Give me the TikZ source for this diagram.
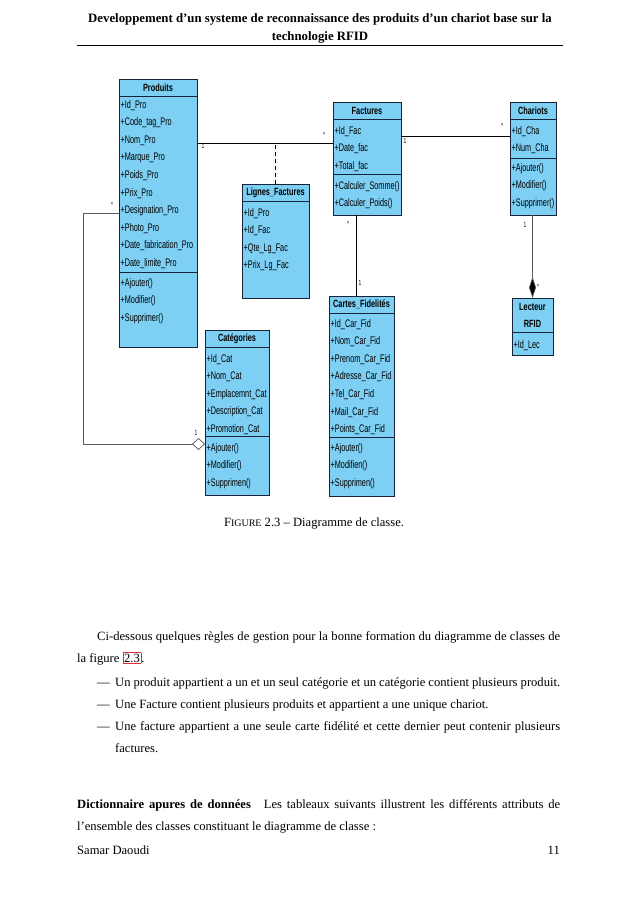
\documentclass[tikz,border=0pt]{standalone}
\usepackage{fontspec}
\setmainfont{Liberation Serif}
\newfontfamily\umlfam[FakeStretch=0.66]{Liberation Sans}
\newfontfamily\umlbfam[FakeStretch=0.7]{Liberation Sans}
\usetikzlibrary{arrows.meta}
\definecolor{clsfill}{RGB}{125,207,243}
\definecolor{clsline}{RGB}{25,35,55}
\definecolor{refred}{RGB}{225,45,45}
\definecolor{linkgray}{RGB}{90,90,90}
\newcommand\umlattrfont{\umlfam\fontsize{11}{12}\selectfont}
\newcommand\umltitlefont{\umlbfam\bfseries\fontsize{10.5}{17}\selectfont}
\newcommand\umlmultfont{\umlfam\fontsize{7.5}{7.5}\selectfont}
\newcommand\pagefont{\fontsize{12.6}{15}\selectfont}
\newcommand\attrlist[4]{\foreach \t [count=\i] in {#4} {\node[attr] (#1-\i) at (#2, #3+17.6*\i-17.6) {\t};}}
\begin{document}
\begin{tikzpicture}[x=1pt,y=-1pt,
  cls/.style={draw=clsline, fill=clsfill, line width=0.8pt, anchor=north west, inner sep=0pt, outer sep=0pt},
  ttl/.style={font=\umltitlefont, inner sep=0pt, align=center},
  attr/.style={font=\umlattrfont, anchor=base west, inner sep=0pt},
  sepline/.style={draw=clsline, line width=0.8pt},
  assoc/.style={draw=black, line width=0.7pt},
  mult/.style={font=\umlmultfont, inner sep=0pt},
  txt/.style={font=\pagefont, anchor=base west, inner sep=0pt}
]
\useasboundingbox[fill=white] (0,0) rectangle (638,903);

% ---------- page header ----------
\node[font=\fontsize{12.8}{15}\selectfont\bfseries, anchor=base, inner sep=0pt] (head1) at (320,22)
  {Developpement d’un systeme de reconnaissance des produits d’un chariot base sur la};
\node[font=\fontsize{12.8}{15}\selectfont\bfseries, anchor=base, inner sep=0pt] (head2) at (320,40) {technologie RFID};
\coordinate (ruleL) at (77,45);
\coordinate (ruleR) at (563,45);
\draw[line width=0.9pt] (ruleL) -- (ruleR);

% ---------- classes ----------
% Produits
\node[cls, minimum width=78pt, minimum height=268pt] (produits) at (119,79) {};
\node[ttl] (produits-t) at (158,87.5) {Produits};
\draw[sepline] (produits.west |- 0,96) -- (produits.east |- 0,96);
\draw[sepline] (produits.west |- 0,272) -- (produits.east |- 0,272);
\attrlist{produits-a}{120.5}{108}{+Id\_Pro,+Code\_tag\_Pro,+Nom\_Pro,+Marque\_Pro,+Poids\_Pro,+Prix\_Pro,+Designation\_Pro,+Photo\_Pro,+Date\_fabrication\_Pro,+Date\_limite\_Pro}
\attrlist{produits-m}{120.5}{286}{+Ajouter(),+Modifier(),+Supprimer()}

% Lignes_Factures
\node[cls, minimum width=67pt, minimum height=114pt] (lignes) at (242,184) {};
\node[ttl] (lignes-t) at (275.5,192.5) {Lignes\_Factures};
\draw[sepline] (lignes.west |- 0,201) -- (lignes.east |- 0,201);
\attrlist{lignes-a}{243.5}{216}{+Id\_Pro,+Id\_Fac,+Qte\_Lg\_Fac,+Prix\_Lg\_Fac}

% Factures
\node[cls, minimum width=68pt, minimum height=113pt] (factures) at (333,102) {};
\node[ttl] (factures-t) at (367,110.5) {Factures};
\draw[sepline] (factures.west |- 0,119) -- (factures.east |- 0,119);
\draw[sepline] (factures.west |- 0,174) -- (factures.east |- 0,174);
\attrlist{factures-a}{334.5}{134}{+Id\_Fac,+Date\_fac,+Total\_fac}
\attrlist{factures-m}{334.5}{189}{+Calculer\_Somme(),+Calculer\_Poids()}

% Chariots
\node[cls, minimum width=46pt, minimum height=113pt] (chariots) at (510,102) {};
\node[ttl] (chariots-t) at (533,110.5) {Chariots};
\draw[sepline] (chariots.west |- 0,119) -- (chariots.east |- 0,119);
\draw[sepline] (chariots.west |- 0,158) -- (chariots.east |- 0,158);
\attrlist{chariots-a}{511.5}{134}{+Id\_Cha,+Num\_Cha}
\attrlist{chariots-m}{511.5}{171}{+Ajouter(),+Modifier(),+Supprimer()}

% Lecteur RFID
\node[cls, minimum width=41pt, minimum height=57pt] (lecteur) at (512,298) {};
\node[ttl] (lecteur-t) at (532.5,315.5) {Lecteur\\RFID};
\draw[sepline] (lecteur.west |- 0,332) -- (lecteur.east |- 0,332);
\attrlist{lecteur-a}{513.5}{348}{+Id\_Lec}

% Cartes_Fidelites
\node[cls, minimum width=65pt, minimum height=200pt] (cartes) at (329,296) {};
\node[ttl] (cartes-t) at (361.5,304.5) {Cartes\_Fidelités};
\draw[sepline] (cartes.west |- 0,313) -- (cartes.east |- 0,313);
\draw[sepline] (cartes.west |- 0,437) -- (cartes.east |- 0,437);
\attrlist{cartes-a}{330.5}{327}{+Id\_Car\_Fid,+Nom\_Car\_Fid,+Prenom\_Car\_Fid,+Adresse\_Car\_Fid,+Tel\_Car\_Fid,+Mail\_Car\_Fid,+Points\_Car\_Fid}
\attrlist{cartes-m}{330.5}{451}{+Ajouter(),+Modifien(),+Supprimen()}

% Categories
\node[cls, minimum width=64pt, minimum height=165pt] (categories) at (205,330) {};
\node[ttl] (categories-t) at (237,338.5) {Catégories};
\draw[sepline] (categories.west |- 0,347) -- (categories.east |- 0,347);
\draw[sepline] (categories.west |- 0,436) -- (categories.east |- 0,436);
\attrlist{categories-a}{206.5}{362}{+Id\_Cat,+Nom\_Cat,+Emplacemnt\_Cat,+Description\_Cat,+Promotion\_Cat}
\attrlist{categories-m}{206.5}{451}{+Ajouter(),+Modifier(),+Supprimen()}

% ---------- connectors ----------
\draw[assoc] (produits.east |- 0,143) -- (factures.west |- 0,143);
\draw[assoc, dashed, dash pattern=on 4pt off 3pt] (lignes.north) -- (lignes.north |- 0,143);
\draw[assoc] (factures.east |- 0,136) -- (chariots.west |- 0,136);
\coordinate (fcx) at (356,0);
\draw[assoc] (factures.south -| fcx) -- (cartes.north -| fcx);
\draw[draw=linkgray, line width=0.7pt, -{Diamond[length=21pt,width=7pt,fill=black]}] (lecteur.north |- chariots.south) -- (lecteur.north);
\coordinate (aggA) at (83,213);
\coordinate (aggB) at (83,444);
\draw[draw=linkgray, line width=0.7pt, -{Diamond[open,length=13pt,width=12pt,fill=white]}]
  (produits.west |- aggA) -- (aggA) -- (aggB) -- (categories.west |- aggB);

% multiplicities
\node[mult] (m1) at (203,146) {1};
\node[mult] (m2) at (324,135) {*};
\node[mult] (m3) at (405,141) {1};
\node[mult] (m4) at (502,126) {*};
\node[mult] (m5) at (348,224) {*};
\node[mult] (m6) at (360,283) {1};
\node[mult] (m7) at (525,225) {1};
\node[mult] (m8) at (538,287) {*};
\node[mult] (m9) at (112,205) {*};
\node[mult] (m10) at (196,433) {1};

% ---------- caption and body text ----------
\node[font=\pagefont, anchor=base, inner sep=0pt] (caption) at (314,526)
  {F{\fontsize{10}{12}\selectfont IGURE} 2.3 – Diagramme de classe.};

\node[txt] (p1) at (97,640) {\makebox[463pt][s]{Ci-dessous quelques règles de gestion pour la bonne formation du diagramme de classes de}};
\node[txt] (p2) at (77,662) {la figure {\setlength\fboxsep{0.8pt}\setlength\fboxrule{0.7pt}\fcolorbox{refred}{white}{2.3}}.};

\node[txt] (d1) at (97,686) {—};
\node[txt] (b1) at (115,686) {\makebox[445pt][s]{Un produit appartient a un et un seul catégorie et un catégorie contient plusieurs produit.}};
\node[txt] (d2) at (97,708) {—};
\node[txt] (b2) at (115,708) {Une Facture contient plusieurs produits et appartient a une unique chariot.};
\node[txt] (d3) at (97,730) {—};
\node[txt] (b3) at (115,730) {\makebox[445pt][s]{Une facture appartient a une seule carte fidélité et cette dernier peut contenir plusieurs}};
\node[txt] (b3b) at (115,752) {factures.};

\node[txt] (dict1) at (77,808) {\makebox[483pt][s]{\textbf{Dictionnaire apures de données}\hspace{8pt} Les tableaux suivants illustrent les différents attributs de}};
\node[txt] (dict2) at (77,830) {l’ensemble des classes constituant le diagramme de classe :};

\node[txt] (foot1) at (77,854) {Samar Daoudi};
\node[font=\pagefont, anchor=base east, inner sep=0pt] (foot2) at (560,854) {11};
\end{tikzpicture}
\end{document}
